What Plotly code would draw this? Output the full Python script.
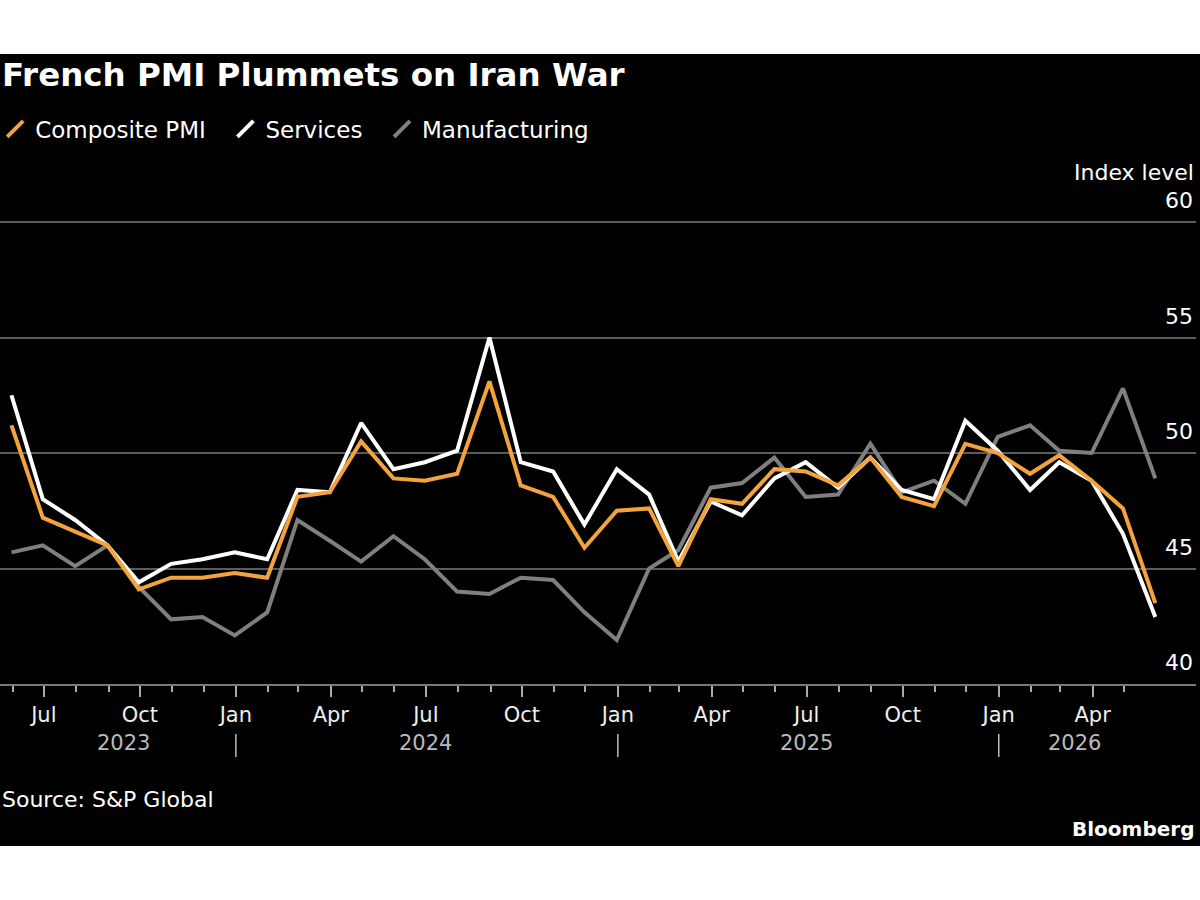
import plotly.graph_objects as go
import pandas as pd

# ---- data (monthly, plotted at month end) ----
months = pd.date_range("2023-05-31", "2026-05-31", freq="ME").strftime("%Y-%m-%d").tolist()

composite = [51.2, 47.2, 46.6, 46.0, 44.1, 44.6, 44.6, 44.8,
             44.6, 48.1, 48.3, 50.5, 48.9, 48.8, 49.1, 53.1, 48.6, 48.1, 45.9, 47.5,
             47.6, 45.1, 48.0, 47.8, 49.3, 49.2, 48.6, 49.8, 48.1, 47.7, 50.4, 50.0,
             49.1, 49.9, 48.8, 47.6, 43.5]
services = [52.5, 48.0, 47.1, 46.0, 44.4, 45.2, 45.4, 45.7,
            45.4, 48.4, 48.3, 51.3, 49.3, 49.6, 50.1, 55.0, 49.6, 49.2, 46.9, 49.3,
            48.2, 45.3, 47.9, 47.3, 48.9, 49.6, 48.5, 49.8, 48.4, 48.0, 51.4, 50.1,
            48.4, 49.6, 48.8, 46.5, 42.9]
manufacturing = [45.7, 46.0, 45.1, 46.0, 44.2, 42.8, 42.9, 42.1,
                 43.1, 47.1, 46.2, 45.3, 46.4, 45.4, 44.0, 43.9, 44.6, 44.5, 43.1, 41.9,
                 45.0, 45.8, 48.5, 48.7, 49.8, 48.1, 48.2, 50.4, 48.3, 48.8, 47.8, 50.7,
                 51.2, 50.1, 50.0, 52.8, 48.9]

tick_dates = ["2023-07-01", "2023-10-01", "2024-01-01", "2024-04-01", "2024-07-01",
              "2024-10-01", "2025-01-01", "2025-04-01", "2025-07-01", "2025-10-01",
              "2026-01-01", "2026-04-01"]
tick_text = ["Jul", "Oct", "Jan", "Apr", "Jul", "Oct", "Jan", "Apr", "Jul", "Oct", "Jan", "Apr"]
minor_ticks = pd.date_range("2023-06-01", "2026-05-01", freq="MS").strftime("%Y-%m-%d").tolist()

year_labels = ["2023", "2024", "2025", "2026"]
year_label_pos = ["2023-09-15", "2024-07-01", "2025-07-01", "2026-03-15"]
year_breaks = ["2024-01-01", "2025-01-01", "2026-01-01"]

y_ticks = [40, 45, 50, 55, 60]
y_min, y_max = 40, 60

series = [
    ("Manufacturing", manufacturing, "#7f7f7f"),
    ("Services", services, "#ffffff"),
    ("Composite PMI", composite, "#f3a33b"),
]
legend_order = ["Composite PMI", "Services", "Manufacturing"]

FONT = "DejaVu Sans"

# plot area geometry in pixels
W, H = 1200, 900
Y_TOP_PIX, PB = 222, 684         # pixel rows of y_max gridline and y_min axis
PT = 185                         # plot area top (room for the top tick label)
px_per_unit = (PB - Y_TOP_PIX) / (y_max - y_min)
range_top = y_max + (Y_TOP_PIX - PT) / px_per_unit
L, R = 0, 4


def py(pix):
    """pixel row -> paper y"""
    return (PB - pix) / (PB - PT)


fig = go.Figure()

colors = {n: c for n, _, c in series}
for name, vals, col in series:
    fig.add_trace(go.Scatter(
        x=months, y=vals, mode="lines", name=name, legendgroup=name,
        showlegend=False, line=dict(color=col, width=4), hoverinfo="skip"))

pad = "\u00a0\u00a0"
for k, name in enumerate(legend_order):
    label = name + (pad if k < len(legend_order) - 1 else "")
    fig.add_trace(go.Scatter(
        x=[None], y=[None], mode="markers", name=label, legendgroup=name,
        marker=dict(symbol="line-ne", size=16, color=colors[name],
                    line=dict(color=colors[name], width=4))))

shapes = [dict(type="rect", xref="paper", yref="paper", x0=0, x1=W / (W - L - R),
               y0=py(846), y1=py(54), fillcolor="black", line=dict(width=0),
               layer="below")]
for d in year_breaks:
    shapes.append(dict(type="line", xref="x", yref="paper", x0=d, x1=d,
                       y0=py(734), y1=py(757), line=dict(color="#bbbbbb", width=1.5)))

annotations = [
    dict(text="<b>French PMI Plummets on Iran War</b>", xref="paper", yref="paper",
         x=0, y=py(75), xanchor="left", yanchor="middle", showarrow=False,
         font=dict(family=FONT, size=32.5, color="white")),
    dict(text="Index level", xref="paper", yref="paper", x=1, y=py(172),
         xanchor="right", yanchor="middle", showarrow=False,
         font=dict(family=FONT, size=22, color="white")),
    dict(text="Source: S&P Global", xref="paper", yref="paper", x=0, y=py(799),
         xanchor="left", yanchor="middle", showarrow=False,
         font=dict(family=FONT, size=22, color="white")),
    dict(text="<b>Bloomberg</b>", xref="paper", yref="paper", x=1, y=py(829),
         xanchor="right", yanchor="middle", showarrow=False,
         font=dict(family=FONT, size=20, color="white")),
]
for t, d in zip(year_labels, year_label_pos):
    annotations.append(dict(text=t, xref="x", yref="paper", x=d, y=py(743),
                            xanchor="center", yanchor="middle", showarrow=False,
                            font=dict(family=FONT, size=21, color="#bbbbbb")))

fig.update_layout(
    width=W, height=H,
    margin=dict(l=L, r=R, t=PT, b=H - PB, pad=0, autoexpand=False),
    paper_bgcolor="white", plot_bgcolor="rgba(0,0,0,0)",
    font=dict(family=FONT, color="white"),
    showlegend=True,
    legend=dict(orientation="h", x=-0.004, xanchor="left", y=py(129), yanchor="middle",
                font=dict(family=FONT, size=23, color="white"),
                bgcolor="rgba(0,0,0,0)", itemsizing="trace", traceorder="normal"),
    shapes=shapes, annotations=annotations,
    xaxis=dict(type="date", range=["2023-05-20", "2026-07-09"],
               tickmode="array", tickvals=tick_dates, ticktext=tick_text,
               ticks="outside", ticklen=11, tickwidth=1.5, tickcolor="#aaaaaa",
               minor=dict(tickvals=minor_ticks, ticks="outside", ticklen=6,
                          tickwidth=1.5, tickcolor="#aaaaaa"),
               showline=True, linecolor="#777777", linewidth=2,
               showgrid=False, zeroline=False,
               tickfont=dict(family=FONT, size=21, color="#eeeeee")),
    yaxis=dict(range=[y_min, range_top], tickvals=y_ticks, side="right",
               ticklabelposition="inside top", ticklabelshift=-6, ticks="",
               showgrid=True, gridcolor="#5c5c5c", gridwidth=1.5,
               zeroline=False, showline=False,
               tickfont=dict(family=FONT, size=22, color="white")),
)

fig.write_html("out.html", config={"displayModeBar": False},
               post_script="document.body.style.margin='0px';")
